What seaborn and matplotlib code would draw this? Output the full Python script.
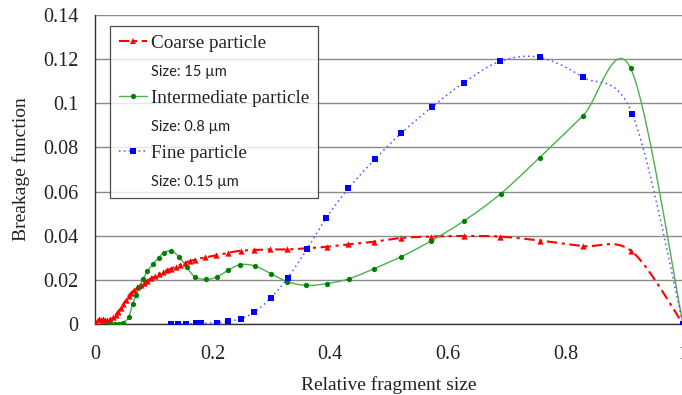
import numpy as np
import matplotlib
matplotlib.use("Agg")
import matplotlib.pyplot as plt
from matplotlib.lines import Line2D
import seaborn as sns

# ---------------- data ----------------
coarse_x = [0.002, 0.006, 0.010, 0.013, 0.017, 0.021, 0.026, 0.030, 0.035, 0.039,
            0.044, 0.048, 0.053, 0.057, 0.062, 0.067, 0.072, 0.078, 0.083, 0.089,
            0.095, 0.102, 0.108, 0.115, 0.122, 0.129, 0.137, 0.145, 0.153, 0.162,
            0.170, 0.187, 0.206, 0.227, 0.248, 0.271, 0.298, 0.327, 0.360, 0.394,
            0.431, 0.475, 0.521, 0.571, 0.628, 0.689, 0.757, 0.830, 0.912, 1.0]
coarse_y = [0.0005, 0.0021, 0.0018, 0.0021, 0.0018, 0.0018, 0.0021, 0.0030, 0.0041, 0.0056,
            0.0071, 0.0091, 0.0109, 0.0127, 0.0142, 0.0154, 0.0166, 0.0177, 0.0187, 0.0196,
            0.0207, 0.0218, 0.0227, 0.0236, 0.0243, 0.0251, 0.0260, 0.0267, 0.0278, 0.0285,
            0.0292, 0.0302, 0.0311, 0.0323, 0.0332, 0.0335, 0.0338, 0.0338, 0.0343, 0.0350,
            0.0361, 0.0373, 0.0390, 0.0396, 0.0399, 0.0396, 0.0378, 0.0353, 0.0331, 0.0]

inter_x = [0.026, 0.034, 0.041, 0.048, 0.057, 0.064, 0.070, 0.075, 0.082, 0.089,
           0.098, 0.108, 0.117, 0.129, 0.143, 0.156, 0.170, 0.189, 0.207, 0.227,
           0.247, 0.272, 0.299, 0.327, 0.359, 0.394, 0.432, 0.475, 0.521, 0.572,
           0.628, 0.690, 0.756, 0.830, 0.911, 1.0]
inter_y = [0.0, 0.0, 0.0, 0.0006, 0.0030, 0.0090, 0.0131, 0.0166, 0.0204, 0.0239,
           0.0270, 0.0299, 0.0323, 0.0331, 0.0305, 0.0258, 0.0213, 0.0202, 0.0213, 0.0245,
           0.0269, 0.0263, 0.0228, 0.0192, 0.0175, 0.0183, 0.0205, 0.0251, 0.0305, 0.0377,
           0.0468, 0.0590, 0.0754, 0.0944, 0.1159, 0.0]

fine_x = [0.129, 0.142, 0.154, 0.171, 0.181, 0.207, 0.226, 0.248, 0.271, 0.299,
          0.328, 0.361, 0.393, 0.431, 0.477, 0.521, 0.573, 0.627, 0.689, 0.756,
          0.830, 0.914, 1.0]
fine_y = [0.0, 0.0, 0.0, 0.0003, 0.0003, 0.0006, 0.0012, 0.0024, 0.0054, 0.0118,
          0.0210, 0.0341, 0.0479, 0.0615, 0.0749, 0.0865, 0.0983, 0.1093, 0.1190, 0.1208,
          0.1118, 0.0950, 0.0]

series_names = ["Coarse particle", "Intermediate particle", "Fine particle"]
size_labels = ["Size: 15 \u00b5m", "Size: 0.8 \u00b5m", "Size: 0.15 \u00b5m"]
x_ticks = [0, 0.2, 0.4, 0.6, 0.8, 1]
x_ticklabels = ["0", "0.2", "0.4", "0.6", "0.8", "1"]
y_ticks = [0, 0.02, 0.04, 0.06, 0.08, 0.1, 0.12, 0.14]
y_ticklabels = ["0", "0.02", "0.04", "0.06", "0.08", "0.1", "0.12", "0.14"]


def smooth(x, y, n=16):
    """Excel-style smoothed line (Catmull-Rom through the data points)."""
    P = np.column_stack([x, y]).astype(float)
    P = np.vstack([P[0], P, P[-1]])
    t = np.linspace(0, 1, n, endpoint=False)[:, None]
    h00 = 2 * t**3 - 3 * t**2 + 1
    h10 = t**3 - 2 * t**2 + t
    h01 = -2 * t**3 + 3 * t**2
    h11 = t**3 - t**2
    out = []
    for i in range(1, len(P) - 2):
        p0, p1, p2, p3 = P[i - 1], P[i], P[i + 1], P[i + 2]
        m1 = (p2 - p0) / 2
        m2 = (p3 - p1) / 2
        out.append(h00 * p1 + h10 * m1 + h01 * p2 + h11 * m2)
    out.append(P[-2][None, :])
    S = np.vstack(out)
    return S[:, 0], S[:, 1]


sns.set_style("white")
serif = ["Liberation Serif", "DejaVu Serif"]
sans = ["Lato", "DejaVu Sans"]
plt.rcParams["font.family"] = serif

fig = plt.figure(figsize=(6.82, 3.95), dpi=100)
ax = fig.add_axes([95 / 682, 1 - 324 / 395, 588 / 682, 309 / 395])

styles = [
    dict(x=coarse_x, y=coarse_y, lc="#ff0000", mc="#ff0000", ls=(0, (5, 2.2, 1.5, 2.2)),
         lw=1.5, marker="^", ms=4.5),
    dict(x=inter_x, y=inter_y, lc="#4fae4f", mc="#008000", ls="-",
         lw=1.0, marker="o", ms=3.8),
    dict(x=fine_x, y=fine_y, lc="#5050ff", mc="#0000ff", ls=(0, (1, 2.2)),
         lw=1.1, marker="s", ms=4.0),
]

for st in styles:
    sx, sy = smooth(st["x"], st["y"])
    sns.lineplot(x=sx, y=sy, sort=False, estimator=None, ax=ax, color=st["lc"],
                 linewidth=st["lw"], linestyle=st["ls"], zorder=3)
    sns.scatterplot(x=st["x"], y=st["y"], ax=ax, color=st["mc"], marker=st["marker"],
                    s=st["ms"] ** 2, linewidth=0, zorder=4)

ax.set_xlim(0, 1)
ax.set_ylim(0, 0.14)
ax.set_xticks(x_ticks)
ax.set_xticklabels(x_ticklabels)
ax.set_yticks(y_ticks)
ax.set_yticklabels(y_ticklabels)
ax.yaxis.grid(True, color="#8a8a8a", linewidth=1.0)
ax.xaxis.grid(False)
ax.set_axisbelow(True)
for side in ["top", "right"]:
    ax.spines[side].set_visible(False)
for side in ["left", "bottom"]:
    ax.spines[side].set_color("#333333")
    ax.spines[side].set_linewidth(1.0)
ax.tick_params(axis="both", direction="out", length=5, width=1, color="#333333",
               labelsize=14.5, labelcolor="#222222")
ax.tick_params(axis="x", pad=10)
ax.tick_params(axis="y", pad=7)

ax.set_xlabel("Relative fragment size", fontsize=14, color="#222222", labelpad=9)
ax.set_ylabel("Breakage function", fontsize=14, color="#222222", labelpad=9)

handles, labels = [], []
for st, name, sz in zip(styles, series_names, size_labels):
    handles.append(Line2D([], [], color=st["lc"], linewidth=st["lw"], linestyle=st["ls"],
                          marker=st["marker"], markersize=st["ms"],
                          markerfacecolor=st["mc"], markeredgewidth=0))
    labels.append(name)
    handles.append(Line2D([], [], linestyle="none"))
    labels.append(sz)

leg = ax.legend(handles, labels, loc="upper left", bbox_to_anchor=(0.0255, 0.964),
                borderaxespad=0, frameon=True, fancybox=False, fontsize=13.8,
                handlelength=1.5, handletextpad=0.2, labelspacing=0.55,
                borderpad=0.45, numpoints=1)
leg.get_frame().set_edgecolor("#222222")
leg.get_frame().set_linewidth(0.9)
for i, txt in enumerate(leg.get_texts()):
    txt.set_color("#222222")
    if i % 2 == 1:
        txt.set_fontfamily(sans)
        txt.set_fontsize(10.5)

fig.savefig("out.png", dpi=100)
